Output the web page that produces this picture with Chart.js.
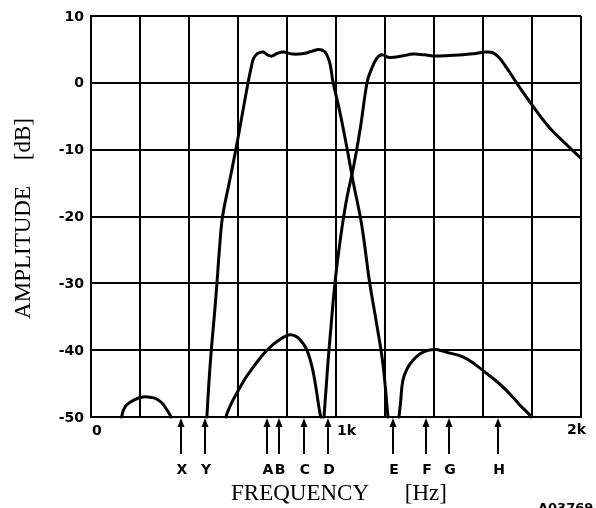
<!DOCTYPE html>
<html>
<head>
<meta charset="utf-8">
<script src="https://cdn.jsdelivr.net/npm/chart.js@4/dist/chart.umd.min.js"></script>
<style>
  html, body { margin: 0; padding: 0; background: #fff; overflow: hidden; }
  canvas { display: block; }
</style>
</head>
<body>
<canvas id="c" width="596" height="508"></canvas>
<script>
// ---- data (frequency in Hz, amplitude in dB) ----
const band1Freq = [473,481,491,503,514,524,537,564,591,616,641,655,664,680,702,720,738,760,785,825,870,900,930,953,966,976,988,1016,1045,1069,1105,1137,1167,1192,1212];
const band1Amp  = [-50,-45,-40,-35,-30,-25,-20,-15,-10,-5,0,2.5,3.7,4.4,4.6,4.2,4.0,4.4,4.6,4.3,4.4,4.7,5.0,4.7,3.9,2.8,0.1,-4.4,-9.8,-14.6,-21.3,-29.8,-36.3,-42.2,-50];

const band2Freq = [951,959,968,980,992,1004,1024,1045,1073,1100,1127,1143,1167,1188,1216,1269,1314,1360,1408,1460,1518,1570,1612,1640,1665,1694,1735,1800,1869,1951,2000];
const band2Amp  = [-50,-46,-41.5,-36.3,-31.3,-27.3,-21.8,-17.1,-12.3,-6.6,0.1,1.9,3.7,4.2,3.8,4.0,4.3,4.2,4.0,4.1,4.2,4.4,4.6,4.5,3.8,2.4,0.1,-3.3,-6.6,-9.6,-11.3];

const hump1Freq = [125,132,145,173,212,250,268,290,302,318,327];
const hump1Amp  = [-50,-49,-48.2,-47.5,-47,-47.1,-47.3,-47.9,-48.5,-49.4,-50];

const hump2Freq = [551,558,575,600,630,661,690,716,745,771,795,815,835,855,876,893,907,919,928,934,938];
const hump2Amp  = [-50,-49.2,-47.8,-46.1,-44.2,-42.6,-41.2,-40.1,-39.1,-38.4,-37.9,-37.7,-37.9,-38.5,-39.6,-41.2,-43.3,-45.8,-48,-49.3,-50];

const hump3Freq = [1257,1263,1273,1290,1314,1345,1380,1408,1450,1518,1570,1612,1660,1706,1750,1788,1795];
const hump3Amp  = [-50,-48,-44.5,-42.8,-41.5,-40.5,-40,-39.9,-40.3,-41,-42.2,-43.4,-44.8,-46.4,-48.2,-49.6,-50];

const markerNames = ['X','Y','A','B','C','D','E','F','G','H'];
const markerFreqs = [367,467,720,766,869,967,1234,1366,1461,1662];

const yTickValues = [10,0,-10,-20,-30,-40,-50];
const xTickValues = [0,1000,2000];
const xTickLabels = ['0','1k','2k'];

const xTitle = 'FREQUENCY [Hz]';
const yTitle = 'AMPLITUDE [dB]';
const figureCode = 'A03769';

// ---- build datasets ----
function pts(xs, ys) { return xs.map((x, i) => ({ x: x, y: ys[i] })); }
function ds(xs, ys) {
  return {
    data: pts(xs, ys),
    borderColor: '#000',
    borderWidth: 3,
    pointRadius: 0,
    fill: false,
    tension: 0.4,
    borderCapStyle: 'round',
    borderJoinStyle: 'round',
    clip: 4
  };
}

const annot = {
  id: 'annot',
  afterDraw(chart) {
    const ctx = chart.ctx;
    const xs = chart.scales.x, ys = chart.scales.y;
    const area = chart.chartArea;
    ctx.save();
    ctx.fillStyle = '#000';
    ctx.strokeStyle = '#000';

    // y tick labels
    ctx.font = 'bold 14px "DejaVu Sans"';
    ctx.textAlign = 'right';
    ctx.textBaseline = 'middle';
    yTickValues.forEach(v => {
      ctx.fillText(String(v), area.left - 7, ys.getPixelForValue(v) + 1);
    });

    // x tick labels
    ctx.textBaseline = 'middle';
    xTickValues.forEach((v, i) => {
      const px = xs.getPixelForValue(v);
      if (i === xTickValues.length - 1) {
        ctx.textAlign = 'right';
        ctx.fillText(xTickLabels[i], px + 5, area.bottom + 13);
      } else {
        ctx.textAlign = 'left';
        ctx.fillText(xTickLabels[i], px + 1, area.bottom + 14);
      }
    });

    // frequency markers (arrows)
    const tipY = area.bottom + 1;
    ctx.lineWidth = 2;
    markerFreqs.forEach((f, i) => {
      const px = Math.round(xs.getPixelForValue(f));
      ctx.beginPath();
      ctx.moveTo(px, tipY + 6);
      ctx.lineTo(px, tipY + 36);
      ctx.stroke();
      ctx.beginPath();
      ctx.moveTo(px, tipY);
      ctx.lineTo(px - 3.5, tipY + 9);
      ctx.lineTo(px + 3.5, tipY + 9);
      ctx.closePath();
      ctx.fill();
      ctx.textAlign = 'center';
      ctx.textBaseline = 'middle';
      ctx.font = 'bold 14px "DejaVu Sans"';
      ctx.fillText(markerNames[i], px + 1, area.bottom + 53);
    });

    // axis titles
    ctx.font = '23px "Liberation Serif"';
    try { ctx.wordSpacing = '30px'; } catch (e) {}
    ctx.textAlign = 'center';
    ctx.textBaseline = 'alphabetic';
    ctx.fillText(xTitle, (area.left + area.right) / 2 + 3, 500);

    try { ctx.wordSpacing = '20px'; } catch (e) {}
    ctx.save();
    ctx.translate(30, (area.top + area.bottom) / 2 + 2);
    ctx.rotate(-Math.PI / 2);
    ctx.textAlign = 'center';
    ctx.fillText(yTitle, 0, 0);
    ctx.restore();
    try { ctx.wordSpacing = '0px'; } catch (e) {}

    // figure code (cut off at bottom)
    ctx.font = 'bold 13px "DejaVu Sans"';
    ctx.textAlign = 'left';
    ctx.textBaseline = 'top';
    ctx.fillText(figureCode, 538, 502);
    ctx.restore();
  }
};

new Chart(document.getElementById('c'), {
  type: 'line',
  data: {
    datasets: [
      ds(band1Freq, band1Amp),
      ds(band2Freq, band2Amp),
      ds(hump1Freq, hump1Amp),
      ds(hump2Freq, hump2Amp),
      ds(hump3Freq, hump3Amp)
    ]
  },
  options: {
    responsive: false,
    devicePixelRatio: 1,
    animation: false,
    events: [],
    layout: { padding: { left: 91, right: 15, top: 16, bottom: 91 } },
    plugins: { legend: { display: false }, tooltip: { enabled: false }, title: { display: false } },
    scales: {
      x: {
        type: 'linear', min: 0, max: 2000,
        ticks: { display: false, stepSize: 200 },
        grid: { color: '#000', lineWidth: 2, drawTicks: false },
        border: { color: '#000', width: 2 }
      },
      y: {
        type: 'linear', min: -50, max: 10,
        ticks: { display: false, stepSize: 10 },
        grid: { color: '#000', lineWidth: 2, drawTicks: false },
        border: { color: '#000', width: 2 }
      }
    }
  },
  plugins: [annot]
});
</script>
</body>
</html>
